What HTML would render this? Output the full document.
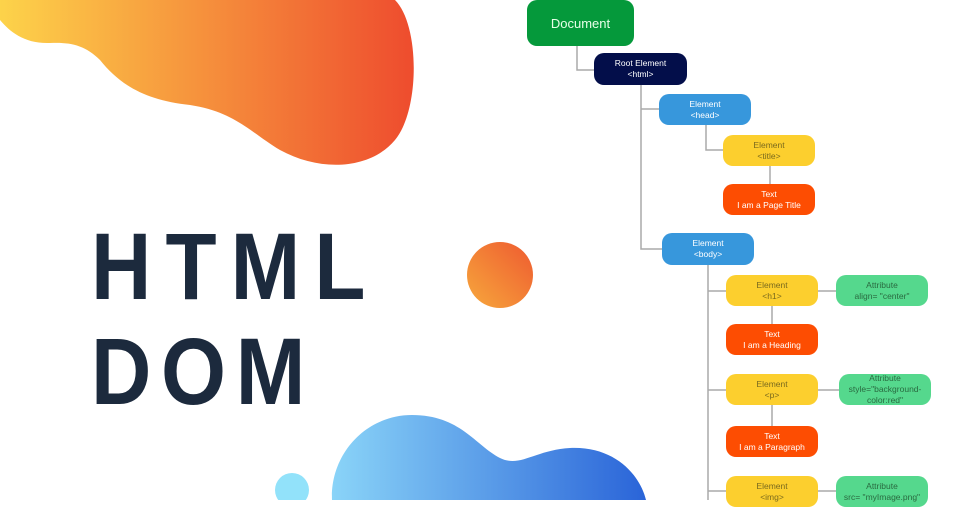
<!DOCTYPE html>
<html><head><meta charset="utf-8"><style>
body{margin:0;width:960px;height:500px;overflow:hidden;background:#fff;position:relative;font-family:"Liberation Sans",sans-serif}
.t{position:absolute;left:91px;font-weight:bold;font-size:95px;color:#1c2a3d;line-height:1;transform:scaleX(0.88);transform-origin:0 0;white-space:nowrap}
.n{position:absolute;width:92px;height:31px;border-radius:10px;display:flex;flex-direction:column;justify-content:center;align-items:center;font-size:8.5px;line-height:11px;text-align:center;color:#fff}
.y{background:#fccf2e;color:#7a6a1e}.r{background:#fd4d02}.g{background:#55d88d;color:#2a6a40}.b{background:#3797dc}
</style></head><body>
<svg width="960" height="500" style="position:absolute;left:0;top:0">
<defs>
<linearGradient id="o" x1="0" x2="1"><stop offset="0" stop-color="#fdd34a"/><stop offset="1" stop-color="#ee4c2e"/></linearGradient>
<linearGradient id="c" x1="0" y1="1" x2="1" y2="0"><stop offset="0" stop-color="#f7a83c"/><stop offset="1" stop-color="#ee5a30"/></linearGradient>
<linearGradient id="bl" x1="0" x2="1"><stop offset="0" stop-color="#8ad4f8"/><stop offset="1" stop-color="#2a64d8"/></linearGradient>
</defs>
<path d="M0,0 L395,0 C420,25 420,110 395,140 C370,170 320,172 280,150 C250,132 235,112 190,105 C145,100 120,85 100,60 C85,45 70,42 50,43 C25,44 10,32 0,20 Z" fill="url(#o)"/>
<circle cx="500" cy="275" r="33" fill="url(#c)"/>
<path d="M332,500 C330,455 365,415 412,415 C460,415 475,445 500,458 C520,468 535,450 570,448 C615,446 640,475 646,500 Z" fill="url(#bl)"/>
<circle cx="292" cy="490" r="17" fill="#92e2fa"/>
<g stroke="#aaa" stroke-width="1.5" fill="none">
<path d="M577,46 V70 H594"/>
<path d="M641,85 V249 H662 M641,109 H659"/>
<path d="M706,125 V150 H723"/>
<path d="M770,166 V184"/>
<path d="M708,265 V500 M708,291 H726 M708,390 H726 M708,491 H726"/>
<path d="M818,291 H836 M818,390 H839 M818,491 H836"/>
<path d="M772,305 V324 M772,405 V426"/>
</g>
</svg>
<div class="t" style="top:220px;letter-spacing:16px">HTML</div>
<div class="t" style="top:325px;letter-spacing:11px">DOM</div>
<div class="n" style="left:527px;top:0;width:107px;height:46px;background:#05993b;font-size:13px;color:#e8ffe8">Document</div>
<div class="n" style="left:594px;top:53px;width:93px;height:32px;background:#030e4a">Root Element<br>&lt;html&gt;</div>
<div class="n b" style="left:659px;top:94px">Element<br>&lt;head&gt;</div>
<div class="n y" style="left:723px;top:135px">Element<br>&lt;title&gt;</div>
<div class="n r" style="left:723px;top:184px">Text<br>I am a Page Title</div>
<div class="n b" style="left:662px;top:233px;height:32px">Element<br>&lt;body&gt;</div>
<div class="n y" style="left:726px;top:275px">Element<br>&lt;h1&gt;</div>
<div class="n g" style="left:836px;top:275px">Attribute<br>align= "center"</div>
<div class="n r" style="left:726px;top:324px">Text<br>I am a Heading</div>
<div class="n y" style="left:726px;top:374px">Element<br>&lt;p&gt;</div>
<div class="n g" style="left:839px;top:374px">Attribute<br>style="background-<br>color:red"</div>
<div class="n r" style="left:726px;top:426px">Text<br>I am a Paragraph</div>
<div class="n y" style="left:726px;top:476px">Element<br>&lt;img&gt;</div>
<div class="n g" style="left:836px;top:476px">Attribute<br>src= "myImage.png"</div>
</body></html>
